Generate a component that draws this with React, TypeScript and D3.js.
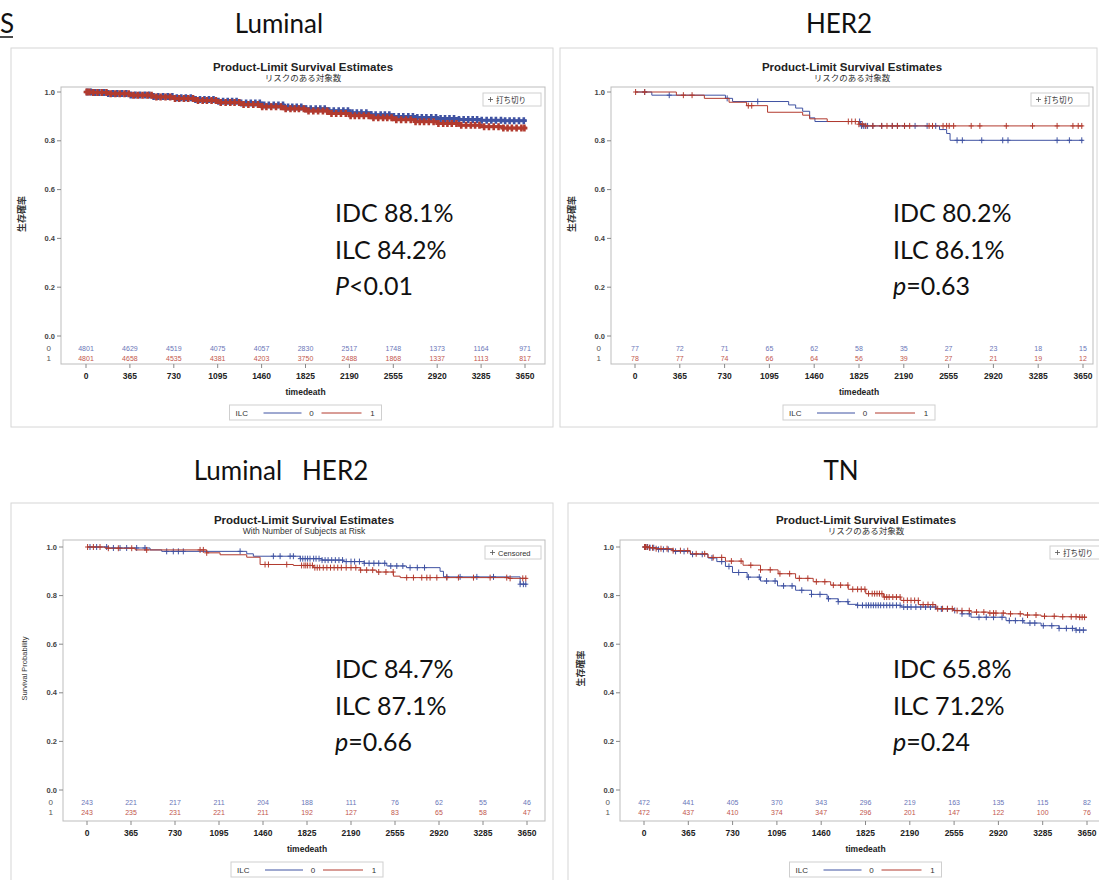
import React from 'react';
import * as d3 from 'd3';

type Step = [number, number];

const timeTicks = [0, 365, 730, 1095, 1460, 1825, 2190, 2555, 2920, 3285, 3650];
const survTicks = [0, 0.2, 0.4, 0.6, 0.8, 1.0];

// ---- Luminal ----
const lumIdcSurv: Step[] = [[0, 1], [60, 0.998], [180, 0.994], [365, 0.988], [550, 0.982], [730, 0.976], [910, 0.969], [1095, 0.962], [1280, 0.955], [1460, 0.947], [1640, 0.939], [1825, 0.931], [2010, 0.923], [2190, 0.915], [2370, 0.907], [2555, 0.9], [2740, 0.895], [2920, 0.891], [3100, 0.887], [3285, 0.884], [3470, 0.882], [3650, 0.881]];
const lumIlcSurv: Step[] = [[0, 1], [60, 0.998], [180, 0.993], [365, 0.987], [550, 0.98], [730, 0.973], [910, 0.965], [1095, 0.957], [1280, 0.949], [1460, 0.94], [1640, 0.931], [1825, 0.922], [2010, 0.912], [2190, 0.903], [2370, 0.894], [2555, 0.886], [2740, 0.878], [2920, 0.871], [3100, 0.864], [3285, 0.858], [3470, 0.852], [3650, 0.848]];
const lumIdcCens = [12, 40, 75, 110, 150, 185, 222, 260, 298, 335, 372, 410, 448, 490, 525, 562, 600, 641, 680, 718, 755, 792, 830, 871, 910, 948, 985, 1022, 1060, 1101, 1140, 1178, 1215, 1252, 1290, 1331, 1370, 1408, 1445, 1482, 1520, 1561, 1600, 1638, 1680, 1715, 1752, 1790, 1830, 1868, 1910, 1948, 1985, 2022, 2060, 2101, 2140, 2178, 2215, 2252, 2290, 2331, 2370, 2408, 2450, 2485, 2522, 2560, 2600, 2638, 2680, 2718, 2755, 2792, 2830, 2871, 2910, 2948, 2985, 3022, 3060, 3101, 3140, 3178, 3215, 3252, 3290, 3331, 3370, 3408, 3450, 3485, 3522, 3560, 3600, 3640];
const lumIlcCens = [5, 28, 60, 95, 131, 170, 205, 244, 280, 320, 355, 394, 430, 470, 511, 545, 585, 620, 661, 700, 740, 775, 814, 850, 890, 931, 970, 1005, 1044, 1080, 1120, 1161, 1200, 1235, 1274, 1310, 1350, 1391, 1430, 1465, 1500, 1540, 1580, 1621, 1660, 1700, 1735, 1770, 1811, 1850, 1890, 1930, 1970, 2005, 2041, 2080, 2120, 2160, 2200, 2235, 2271, 2310, 2350, 2390, 2430, 2470, 2505, 2541, 2580, 2620, 2660, 2700, 2740, 2775, 2811, 2850, 2890, 2930, 2970, 3005, 3041, 3080, 3120, 3160, 3200, 3235, 3271, 3310, 3350, 3390, 3430, 3470, 3505, 3541, 3580, 3620, 3645];
const lumRiskIdc = [4801, 4629, 4519, 4075, 4057, 2830, 2517, 1748, 1373, 1164, 971];
const lumRiskIlc = [4801, 4658, 4535, 4381, 4203, 3750, 2488, 1868, 1337, 1113, 817];

// ---- HER2 ----
const her2IdcSurv: Step[] = [[0, 1], [137, 0.987], [737, 0.974], [795, 0.961], [1252, 0.947], [1309, 0.934], [1366, 0.921], [1423, 0.894], [1466, 0.879], [1838, 0.861], [2481, 0.846], [2539, 0.83], [2567, 0.802], [3650, 0.802]];
const her2IlcSurv: Step[] = [[0, 1], [337, 0.987], [565, 0.974], [766, 0.958], [909, 0.944], [1080, 0.917], [1366, 0.905], [1423, 0.89], [1566, 0.879], [1824, 0.868], [1881, 0.861], [3650, 0.861]];
const her2IdcCens = [79, 279, 751, 1000, 1830, 1845, 1860, 1875, 1895, 1938, 2010, 2096, 2138, 2196, 2282, 2380, 2450, 2624, 2667, 2825, 2996, 3039, 3439, 3539, 3640];
const her2IlcCens = [5, 79, 394, 465, 923, 951, 1738, 1766, 1795, 1824, 1852, 1881, 1938, 2010, 2053, 2096, 2138, 2196, 2238, 2396, 2424, 2510, 2539, 2560, 2596, 2739, 2810, 3025, 3239, 3439, 3568, 3611, 3640];
const her2RiskIdc = [77, 72, 71, 65, 62, 58, 35, 27, 23, 18, 15];
const her2RiskIlc = [78, 77, 74, 66, 64, 56, 39, 27, 21, 19, 12];

// ---- Luminal HER2 ----
const lhIdcSurv: Step[] = [[0, 1], [180, 0.996], [523, 0.988], [620, 0.982], [1325, 0.972], [1380, 0.962], [1768, 0.952], [1950, 0.946], [2127, 0.94], [2300, 0.933], [2487, 0.922], [2650, 0.915], [2929, 0.9], [2957, 0.877], [3593, 0.847], [3650, 0.847]];
const lhIlcSurv: Step[] = [[0, 1], [150, 0.995], [400, 0.988], [993, 0.976], [1104, 0.968], [1325, 0.958], [1436, 0.928], [1712, 0.924], [1878, 0.915], [2266, 0.905], [2400, 0.897], [2542, 0.88], [2598, 0.874], [3500, 0.871], [3650, 0.871]];
const lhIdcCens = [25, 80, 163, 219, 274, 329, 412, 481, 661, 716, 758, 799, 1270, 1546, 1602, 1685, 1712, 1770, 1790, 1810, 1830, 1850, 1880, 1900, 1925, 1950, 1975, 2000, 2030, 2060, 2090, 2120, 2150, 2190, 2220, 2260, 2300, 2340, 2380, 2420, 2470, 2520, 2570, 2620, 2680, 2740, 2800, 2985, 3095, 3234, 3372, 3593, 3620, 3640];
const lhIlcCens = [5, 53, 108, 177, 260, 371, 495, 938, 965, 993, 1477, 1505, 1657, 1780, 1800, 1815, 1830, 1850, 1870, 1890, 1910, 1930, 1960, 1990, 2020, 2050, 2080, 2110, 2150, 2190, 2230, 2270, 2320, 2370, 2420, 2480, 2540, 2652, 2708, 2777, 2819, 2846, 2902, 2985, 3081, 3206, 3344, 3482, 3510, 3615, 3640];
const lhRiskIdc = [243, 221, 217, 211, 204, 188, 111, 76, 62, 55, 46];
const lhRiskIlc = [243, 235, 231, 221, 211, 192, 127, 83, 65, 58, 47];

// ---- TN ----
const tnIdcSurv: Step[] = [[0, 1], [40, 0.997], [120, 0.99], [240, 0.982], [382, 0.97], [527, 0.955], [600, 0.94], [671, 0.92], [729, 0.895], [850, 0.876], [960, 0.86], [1100, 0.84], [1249, 0.822], [1380, 0.805], [1509, 0.787], [1600, 0.775], [1683, 0.764], [1760, 0.76], [2116, 0.753], [2405, 0.745], [2550, 0.739], [2620, 0.725], [2694, 0.711], [2983, 0.697], [3130, 0.687], [3272, 0.676], [3420, 0.665], [3560, 0.658], [3650, 0.658]];
const tnIlcSurv: Step[] = [[0, 1], [40, 0.997], [93, 0.993], [238, 0.985], [382, 0.972], [527, 0.957], [671, 0.942], [816, 0.925], [960, 0.906], [1105, 0.89], [1249, 0.871], [1394, 0.857], [1538, 0.843], [1683, 0.826], [1827, 0.808], [1972, 0.794], [2116, 0.78], [2261, 0.763], [2405, 0.746], [2550, 0.738], [2694, 0.732], [2839, 0.728], [2983, 0.725], [3128, 0.72], [3272, 0.715], [3417, 0.713], [3590, 0.711], [3650, 0.711]];
const tnIdcCens = [5, 15, 30, 50, 80, 120, 160, 200, 260, 330, 400, 480, 560, 640, 700, 780, 860, 950, 1010, 1080, 1150, 1220, 1300, 1380, 1450, 1520, 1600, 1680, 1760, 1800, 1830, 1850, 1870, 1890, 1910, 1930, 1950, 1975, 2000, 2025, 2050, 2080, 2110, 2140, 2170, 2200, 2240, 2280, 2320, 2360, 2400, 2450, 2500, 2560, 2620, 2680, 2760, 2820, 2880, 2950, 3010, 3060, 3120, 3180, 3220, 3290, 3360, 3420, 3480, 3530, 3560, 3590, 3620];
const tnIlcCens = [5, 12, 25, 45, 70, 100, 140, 190, 240, 300, 360, 430, 500, 570, 640, 720, 800, 880, 960, 1040, 1120, 1200, 1280, 1350, 1420, 1490, 1560, 1620, 1680, 1720, 1760, 1790, 1820, 1850, 1880, 1900, 1920, 1940, 1960, 1980, 2000, 2020, 2050, 2080, 2110, 2140, 2170, 2200, 2230, 2260, 2300, 2340, 2380, 2420, 2460, 2500, 2540, 2580, 2620, 2680, 2740, 2800, 2850, 2880, 2900, 2960, 3020, 3100, 3160, 3230, 3300, 3380, 3450, 3520, 3560, 3590, 3610, 3630];
const tnRiskIdc = [472, 441, 405, 370, 343, 296, 219, 163, 135, 115, 82];
const tnRiskIlc = [472, 437, 410, 374, 347, 296, 201, 147, 122, 100, 76];

const BLUE = '#3f52a2';
const RED = '#b23a2e';
const SANS = '"Liberation Sans", Arial, sans-serif';
const CJK = '"Noto Sans CJK JP", sans-serif';
const HEAD = 'Lato, "Open Sans", sans-serif';

const survAt = (steps: Step[], t: number) => {
  let s = steps[0][1];
  for (const [tt, v] of steps) {
    if (tt <= t) s = v;
    else break;
  }
  return s;
};

type PanelProps = {
  heading: string;
  headingX: number;
  headingY: number;
  outer: [number, number, number, number];
  plot: [number, number, number, number];
  x0: number; x1: number; y0: number; y1: number;
  yLabel: string; yLabelCjk: boolean;
  subtitle: string; subtitleCjk: boolean;
  censLabel: string; censCjk: boolean; censW: number;
  idc: Step[]; ilc: Step[]; idcCens: number[]; ilcCens: number[];
  riskIdc: number[]; riskIlc: number[];
  notes: string[]; pLetter: string; pRest: string; notesX: number; notesY: number;
  dense?: boolean;
};

const KMPanel = (p: PanelProps) => {
  const x = d3.scaleLinear().domain([0, 3650]).range([p.x0, p.x1]);
  const y = d3.scaleLinear().domain([0, 1]).range([p.y0, p.y1]);
  const line = d3.line<Step>().x(d => x(d[0])).y(d => y(d[1])).curve(d3.curveStepAfter);
  const [pl, pt, pr, pb] = p.plot;
  const [ol, ot, or, ob] = p.outer;
  const cx = (p.x0 + p.x1) / 2;
  // censor "+" marks; the Luminal panel has thousands, so they merge into a band
  const hw = p.dense ? 3 : 2.5;
  const hh = p.dense ? 3.5 : 3;
  const sw = p.dense ? 2.6 : 1;
  const mark = (t: number, steps: Step[]) => {
    const mx = x(t), my = y(survAt(steps, t));
    return `M${mx - hw},${my}h${2 * hw}M${mx},${my - hh}v${2 * hh}`;
  };
  const legW = 152;
  const legX = cx - legW / 2;
  const legY = pb + 41;
  return (
    <g>
      <text x={p.headingX} y={p.headingY} textAnchor="middle" fontFamily={HEAD} fontSize={26} fill="#111" style={{ whiteSpace: 'pre' }}>{p.heading}</text>
      <rect x={ol} y={ot} width={or - ol} height={ob - ot} fill="#fff" stroke="#d6d6d6" />
      <text x={(pl + pr) / 2} y={pt - 16} textAnchor="middle" fontFamily={SANS} fontWeight="bold" fontSize={11.5} fill="#222">Product-Limit Survival Estimates</text>
      <text x={(pl + pr) / 2} y={pt - 6} textAnchor="middle" fontFamily={p.subtitleCjk ? CJK : SANS} fontSize={8.5} fill="#333">{p.subtitle}</text>
      <rect x={pl} y={pt} width={pr - pl} height={pb - pt} fill="none" stroke="#bdbdbd" />
      {survTicks.map(v => (
        <g key={v}>
          <line x1={pl - 4} x2={pl} y1={y(v)} y2={y(v)} stroke="#888" />
          <text x={pl - 6} y={y(v) + 2.5} textAnchor="end" fontFamily={SANS} fontSize={7.5} fontWeight="bold" fill="#444">{v.toFixed(1)}</text>
        </g>
      ))}
      <text transform={`translate(${pl - 36},${y(0.5)}) rotate(-90)`} textAnchor="middle" fontFamily={p.yLabelCjk ? CJK : SANS} fontWeight={p.yLabelCjk ? 'bold' : 'normal'} fontSize={p.yLabelCjk ? 9 : 7.5} fill="#333">{p.yLabel}</text>
      {timeTicks.map((t, i) => (
        <g key={t}>
          <line x1={x(t)} x2={x(t)} y1={pb} y2={pb + 4} stroke="#888" />
          <text x={x(t)} y={pb + 15} textAnchor="middle" fontFamily={SANS} fontWeight="bold" fontSize={8.5} fill="#222">{t}</text>
          <text x={x(t)} y={p.y0 + 15} textAnchor="middle" fontFamily={SANS} fontSize={7} fill="#6a76b8">{p.riskIdc[i]}</text>
          <text x={x(t)} y={p.y0 + 25} textAnchor="middle" fontFamily={SANS} fontSize={7} fill="#c2564c">{p.riskIlc[i]}</text>
        </g>
      ))}
      <text x={pl - 10} y={p.y0 + 15} textAnchor="end" fontFamily={SANS} fontSize={8} fill="#555">0</text>
      <text x={pl - 10} y={p.y0 + 25} textAnchor="end" fontFamily={SANS} fontSize={8} fill="#555">1</text>
      <text x={cx} y={pb + 31} textAnchor="middle" fontFamily={SANS} fontWeight="bold" fontSize={8.5} fill="#222">timedeath</text>
      <rect x={legX} y={legY} width={legW} height={15} fill="#fff" stroke="#cfcfcf" />
      <text x={legX + 6} y={legY + 11} fontFamily={SANS} fontSize={8} fill="#333">ILC</text>
      <line x1={legX + 34} x2={legX + 72} y1={legY + 8} y2={legY + 8} stroke={BLUE} />
      <text x={legX + 82} y={legY + 11} textAnchor="middle" fontFamily={SANS} fontSize={8} fill="#333">0</text>
      <line x1={legX + 92} x2={legX + 132} y1={legY + 8} y2={legY + 8} stroke={RED} />
      <text x={legX + 143} y={legY + 11} textAnchor="middle" fontFamily={SANS} fontSize={8} fill="#333">1</text>
      <rect x={pr - 4 - p.censW} y={pt + 6} width={p.censW} height={13} fill="#fff" stroke="#d0d0d0" />
      <path d={`M${pr - p.censW + 1},${pt + 12.5}h5M${pr - p.censW + 3.5},${pt + 10}v5`} stroke="#555" strokeWidth={0.8} />
      <text x={pr - p.censW + 9} y={pt + 15.5} fontFamily={p.censCjk ? CJK : SANS} fontSize={7.5} fill="#333">{p.censLabel}</text>
      <path d={line(p.idc) || ''} fill="none" stroke={BLUE} strokeWidth={p.dense ? 3 : 1} />
      <path d={p.idcCens.map(t => mark(t, p.idc)).join('')} fill="none" stroke={BLUE} strokeWidth={sw} />
      <path d={line(p.ilc) || ''} fill="none" stroke={RED} strokeWidth={p.dense ? 3 : 1} />
      <path d={p.ilcCens.map(t => mark(t, p.ilc)).join('')} fill="none" stroke={RED} strokeWidth={sw} />
      {p.notes.map((n, i) => (
        <text key={i} x={p.notesX} y={p.notesY + i * 36.5} fontFamily={HEAD} fontSize={25} fill="#111">{n}</text>
      ))}
      <text x={p.notesX} y={p.notesY + 2 * 36.5} fontFamily={HEAD} fontSize={25} fill="#111">
        <tspan fontStyle="italic">{p.pLetter}</tspan>
        <tspan>{p.pRest}</tspan>
      </text>
    </g>
  );
};

export default function App() {
  return (
    <svg width={1099} height={880} style={{ position: 'absolute', left: 0, top: 0, background: '#fff' }}>
      <rect width={1099} height={880} fill="#fff" />
      <text x={0} y={33} fontFamily={HEAD} fontSize={26} fill="#111">S</text>
      <line x1={0} x2={13} y1={37} y2={37} stroke="#111" strokeWidth={1.5} />
      <KMPanel heading="Luminal" headingX={279} headingY={33} outer={[11, 48, 553, 427]} plot={[61, 87, 545, 364]}
        x0={86} x1={525} y0={336} y1={92} yLabel="生存確率" yLabelCjk subtitle="リスクのある対象数" subtitleCjk
        censLabel="打ち切り" censCjk censW={58} idc={lumIdcSurv} ilc={lumIlcSurv} idcCens={lumIdcCens} ilcCens={lumIlcCens}
        riskIdc={lumRiskIdc} riskIlc={lumRiskIlc} notes={['IDC 88.1%', 'ILC 84.2%']} pLetter="P" pRest="<0.01" notesX={335} notesY={222} dense />
      <KMPanel heading="HER2" headingX={839} headingY={33} outer={[560, 48, 1097, 427]} plot={[611, 87, 1093, 364]}
        x0={635} x1={1083} y0={336} y1={92} yLabel="生存確率" yLabelCjk subtitle="リスクのある対象数" subtitleCjk
        censLabel="打ち切り" censCjk censW={58} idc={her2IdcSurv} ilc={her2IlcSurv} idcCens={her2IdcCens} ilcCens={her2IlcCens}
        riskIdc={her2RiskIdc} riskIlc={her2RiskIlc} notes={['IDC 80.2%', 'ILC 86.1%']} pLetter="p" pRest="=0.63" notesX={893} notesY={222} />
      <KMPanel heading={'Luminal   HER2'} headingX={281} headingY={480} outer={[11, 503, 553, 895]} plot={[63, 540, 545, 821]}
        x0={87} x1={527} y0={790} y1={547} yLabel="Survival Probability" yLabelCjk={false} subtitle="With Number of Subjects at Risk" subtitleCjk={false}
        censLabel="Censored" censCjk={false} censW={56} idc={lhIdcSurv} ilc={lhIlcSurv} idcCens={lhIdcCens} ilcCens={lhIlcCens}
        riskIdc={lhRiskIdc} riskIlc={lhRiskIlc} notes={['IDC 84.7%', 'ILC 87.1%']} pLetter="p" pRest="=0.66" notesX={335} notesY={678} />
      <KMPanel heading="TN" headingX={841} headingY={480} outer={[568, 503, 1130, 895]} plot={[620, 540, 1112, 821]}
        x0={644} x1={1087} y0={790} y1={547} yLabel="生存確率" yLabelCjk subtitle="リスクのある対象数" subtitleCjk
        censLabel="打ち切り" censCjk censW={58} idc={tnIdcSurv} ilc={tnIlcSurv} idcCens={tnIdcCens} ilcCens={tnIlcCens}
        riskIdc={tnRiskIdc} riskIlc={tnRiskIlc} notes={['IDC 65.8%', 'ILC 71.2%']} pLetter="p" pRest="=0.24" notesX={893} notesY={678} />
    </svg>
  );
}
